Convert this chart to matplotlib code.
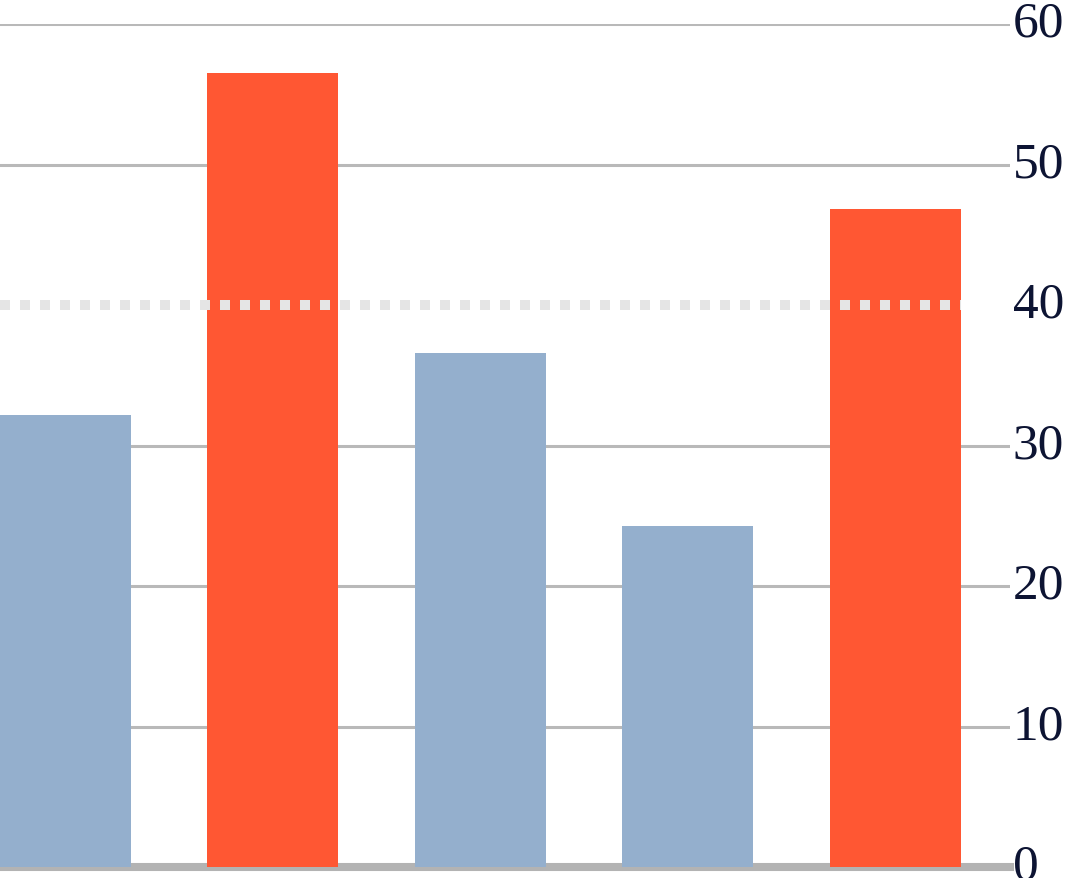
import matplotlib
matplotlib.use('Agg')
from matplotlib import pyplot as plt
from matplotlib.transforms import ScaledTranslation

values=[32.2,56.5,36.6,24.3,46.8]
colors=['#94afcd','#ff5733','#94afcd','#94afcd','#ff5733']
threshold=40
yticks=[0,10,20,30,40,50,60]

fig=plt.figure(figsize=(10.7,8.79),dpi=100)
ax=fig.add_axes([0,11/879,1010/1070,843/879])

x=list(range(len(values)))
w=0.631
ax.bar(x,values,width=w,color=colors,zorder=3)
for t in yticks[1:]:
	if t==threshold:
		continue
	ax.axhline(t,color='#b9b9b9',lw=2.2,zorder=1)
ax.axhline(0,color='#b3b3b3',lw=5.8,zorder=2,clip_on=False)
ax.hlines(threshold,x[0]-w/2,x[-1]+w/2,color='#e5e5e5',lw=7.2,linestyles=(0,(1,1)),zorder=4)
ax.set_xlim(x[0]-w/2,4.552)
ax.set_ylim(0,60)
ax.set_xticks([])
ax.set_yticks(yticks)
ax.yaxis.tick_right()
ax.tick_params(axis='y',length=0,pad=2,labelsize=37,labelcolor='#0d1433')
off=ScaledTranslation(0,6/100,fig.dpi_scale_trans)
for lab in ax.get_yticklabels():
	lab.set_family('Liberation Serif')
	lab.set_transform(lab.get_transform()+off)
for s in ax.spines.values():
	s.set_visible(False)
fig.savefig('out.png',dpi=100)
